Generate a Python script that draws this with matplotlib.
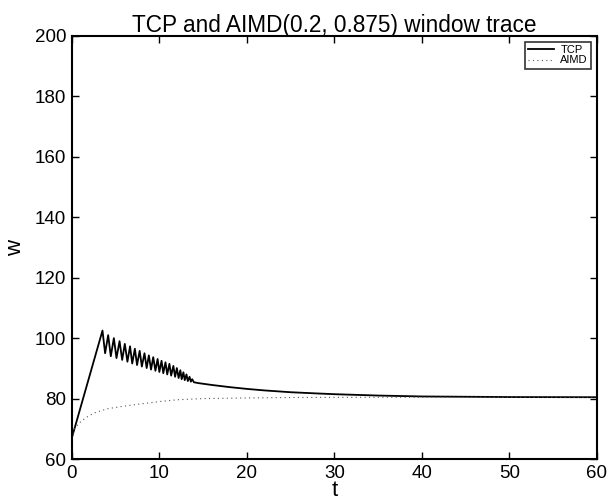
#!/usr/bin/env python3
"""
TCP and AIMD(0.2, 0.875) window trace, redrawn as a MATLAB-style line plot.
"""

import matplotlib

matplotlib.use("Agg")
import matplotlib.pyplot as plt

plt.rcParams["font.family"] = ["Liberation Sans", "DejaVu Sans"]

# TCP window: linear ramp, then a shrinking sawtooth, then a slow decay
tcp_t = [
    0.0, 3.5, 3.8, 4.15, 4.45, 4.8, 5.1, 5.45, 5.75, 6.05, 6.35, 6.65, 6.9,
    7.2, 7.45, 7.75, 8.0, 8.3, 8.55, 8.8, 9.05, 9.3, 9.55, 9.8, 10.0, 10.25,
    10.45, 10.7, 10.9, 11.15, 11.35, 11.6, 11.8, 12.0, 12.2, 12.4, 12.55,
    12.75, 12.9, 13.1, 13.25, 13.45, 13.6, 13.75, 13.95,
    14.5, 16.0, 18.0, 20.0, 22.0, 25.0, 28.0, 30.0, 35.0, 40.0, 50.0, 60.0,
]
tcp_w = [
    67.0, 102.5, 95.0, 101.0, 94.0, 100.0, 93.4, 99.0, 92.8, 98.1, 92.2, 97.3, 91.6,
    96.5, 91.1, 95.8, 90.6, 95.0, 90.1, 94.3, 89.6, 93.7, 89.2, 93.1, 88.8, 92.5,
    88.4, 92.0, 88.0, 91.5, 87.6, 90.8, 87.2, 90.1, 86.8, 89.4, 86.4,
    88.7, 86.1, 88.0, 85.8, 87.2, 85.6, 86.4, 85.4,
    85.1, 84.5, 83.8, 83.2, 82.7, 82.1, 81.7, 81.45, 81.0, 80.7, 80.5, 80.45,
]

# AIMD window: smooth concave rise to the same level
aimd_t = [0.0, 0.3, 0.8, 1.5, 2.5, 4.0, 5.5, 7.5, 10.0, 12.0, 15.0, 20.0,
          25.0, 30.0, 40.0, 50.0, 60.0]
aimd_w = [67.0, 70.0, 71.8, 73.5, 75.2, 76.6, 77.3, 78.1, 79.0, 79.6, 80.0,
          80.2, 80.35, 80.4, 80.45, 80.45, 80.45]

x_ticks = [0, 10, 20, 30, 40, 50, 60]
y_ticks = [60, 80, 100, 120, 140, 160, 180, 200]


def main() -> None:
    fig = plt.figure(figsize=(6.09, 5.0), dpi=100)
    ax = fig.add_axes([0.118, 0.082, 0.862, 0.846])

    ax.plot(tcp_t, tcp_w, color="black", linewidth=1.3, label="TCP")
    ax.plot(aimd_t, aimd_w, color="#555555", linewidth=0.8,
            linestyle=(0, (1, 3)), label="AIMD")

    ax.set_xlim(0, 60)
    ax.set_ylim(60, 200)
    ax.set_xticks(x_ticks)
    ax.set_yticks(y_ticks)

    ax.tick_params(direction="in", top=True, right=True, length=5,
                   width=1.0, labelsize=13.5, pad=4)
    for s in ax.spines.values():
        s.set_linewidth(1.5)

    ax.set_title("TCP and AIMD(0.2, 0.875) window trace", fontsize=16.3, pad=3)
    ax.set_xlabel("t", fontsize=16, labelpad=-1)
    ax.set_ylabel("w", fontsize=16, labelpad=6)

    leg = ax.legend(loc="upper right", fontsize=8, handlelength=2.3,
                    frameon=True, fancybox=False, borderaxespad=0.5,
                    borderpad=0.3, labelspacing=0.05, handletextpad=0.6)
    leg.get_frame().set_edgecolor("black")
    leg.get_frame().set_linewidth(1.2)

    fig.savefig("out.png")
    plt.close(fig)


if __name__ == "__main__":
    main()
